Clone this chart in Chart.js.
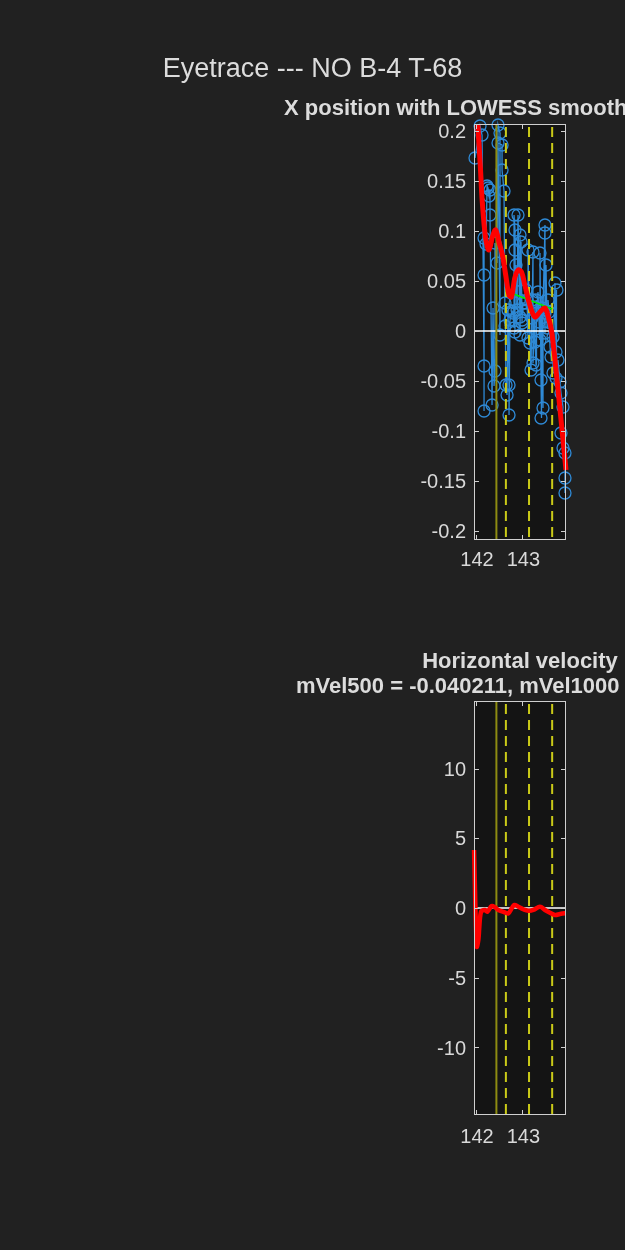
<!DOCTYPE html>
<html><head><meta charset="utf-8">
<script src="https://cdn.jsdelivr.net/npm/chart.js@4"></script>
<style>
html,body{margin:0;padding:0;background:#212121;overflow:hidden;width:625px;height:1250px;}
canvas{position:absolute;left:0;}
.t{position:absolute;white-space:nowrap;color:#dcdcdc;font-family:"Liberation Sans",Arial,sans-serif;line-height:1;}
.b{font-weight:bold;font-size:22px;}
</style></head><body>
<canvas id="c1" width="625" height="600" style="top:0"></canvas>
<canvas id="c2" width="625" height="650" style="top:600px"></canvas>
<div class="t" style="left:0;width:625px;text-align:center;top:55px;font-size:27px;">Eyetrace --- NO B-4 T-68</div>
<div class="t b" style="left:284px;top:97px;">X position with LOWESS smooth</div>
<div class="t b" style="left:400px;width:240px;text-align:center;top:650px;">Horizontal velocity</div>
<div class="t b" style="left:296px;top:675px;">mVel500 = -0.040211, mVel1000</div>
<script>
// ---------- data ----------
const timeLim = [141.956, 143.944];
const posLim = [-0.209, 0.207];
const velLim = [-14.84, 14.84];

const timeTicks = [142, 143];
const timeTickLabels = ['142', '143'];
const posTicks = [0.2, 0.15, 0.1, 0.05, 0, -0.05, -0.1, -0.15, -0.2];
const posTickLabels = ['0.2', '0.15', '0.1', '0.05', '0', '-0.05', '-0.1', '-0.15', '-0.2'];
const velTicks = [10, 5, 0, -5, -10];
const velTickLabels = ['10', '5', '0', '-5', '-10'];

const eventTimes = [142.44];
const cueTimes = [142.645, 143.145, 143.645];

const rawT = [141.978,142.086,142.130,142.173,142.173,142.173,142.173,142.216,142.238,142.259,
  142.281,142.302,142.302,142.346,142.367,142.389,142.410,142.410,142.454,142.475,
  142.518,142.518,142.475,142.562,142.562,142.605,142.626,142.626,142.648,142.670,
  142.691,142.713,142.713,142.734,142.778,142.799,142.821,142.821,142.842,142.842,
  142.842,142.842,142.864,142.886,142.907,142.929,142.950,142.950,142.950,142.972,
  142.994,142.994,143.015,143.058,143.080,143.102,143.102,143.123,143.123,143.166,
  143.188,143.210,143.210,143.231,143.231,143.274,143.274,143.296,143.296,143.317,
  143.339,143.361,143.382,143.382,143.404,143.404,143.425,143.447,143.447,143.490,
  143.490,143.490,143.490,143.512,143.534,143.555,143.577,143.598,143.620,143.663,
  143.663,143.706,143.728,143.749,143.728,143.771,143.814,143.836,143.879,143.836,
  143.879,143.922,143.922,143.922];
const rawPos = [0.173,0.205,0.196,-0.035,-0.080,0.056,0.093,0.087,0.145,0.143,
  0.135,0.141,0.116,-0.074,0.023,-0.055,-0.040,0.088,0.068,0.206,
  0.198,-0.004,0.188,0.186,0.161,0.140,0.005,0.028,-0.054,-0.064,
  0.021,-0.054,-0.084,0.011,0.020,0.018,0.003,0.116,0.101,-0.001,
  0.081,0.028,0.066,0.021,0.116,0.051,0.014,0.096,-0.004,0.089,
  0.008,0.011,0.028,0.028,0.041,0.021,0.031,-0.007,0.081,-0.012,
  -0.039,0.031,0.013,0.079,-0.032,0.024,-0.011,-0.034,0.031,0.018,
  0.039,0.009,-0.009,0.078,-0.049,-0.087,0.023,-0.077,0.021,0.106,
  0.018,0.098,-0.002,0.066,0.003,0.031,0.019,-0.016,-0.026,-0.006,
  -0.042,0.048,-0.021,0.041,-0.047,-0.029,-0.051,-0.062,-0.076,-0.102,
  -0.117,-0.122,-0.147,-0.162];

const smoothT = [142.039,142.091,142.135,142.207,142.278,142.365,142.424,142.496,142.570,142.641,
  142.713,142.765,142.837,142.909,142.983,143.054,143.163,143.272,143.380,143.489,
  143.561,143.635,143.728,143.837,143.944];
const smoothPos = [0.206,0.166,0.129,0.093,0.081,0.096,0.101,0.089,0.076,0.056,
  0.036,0.034,0.053,0.061,0.059,0.046,0.026,0.014,0.019,0.023,
  0.014,-0.001,-0.039,-0.089,-0.139];

const fitT = [142.645, 143.645];
const fitPos = [0.040, 0.022];

const velT = [141.957,142.015,142.050,142.068,142.086,142.105,142.123,142.194,142.244,142.339,
  142.410,142.482,142.590,142.698,142.771,142.827,142.914,143.022,143.130,143.238,
  143.382,143.490,143.598,143.706,143.814,143.922,143.944];
const velVals = [4.16,-2.77,-2.29,-1.50,-0.70,-0.30,-0.20,-0.14,-0.27,0.14,
  0.05,-0.14,-0.27,-0.38,-0.02,0.22,0.09,-0.09,-0.19,-0.14,
  0.09,-0.14,-0.34,-0.50,-0.43,-0.38,-0.38];

// ---------- helpers ----------
const FONT = '"Liberation Sans", Arial, sans-serif';
const TXT = '#d9d9d9';
const pts = (xs, ys) => xs.map((x, i) => ({x, y: ys[i]}));

const framePlugin = {
  id: 'frame',
  beforeDraw(chart) {
    const {ctx, chartArea: a} = chart;
    ctx.save();
    ctx.fillStyle = '#141414';
    ctx.fillRect(a.left, a.top, a.right - a.left, a.bottom - a.top);
    ctx.restore();
  },
  beforeDatasetDraw(chart, args, opts) {
    if (args.index !== opts.refIndex) return;
    const {ctx, chartArea: a, scales} = chart;
    ctx.save();
    const y0 = scales.y.getPixelForValue(0);
    ctx.strokeStyle = '#ffffff'; ctx.lineWidth = 1.5;
    ctx.beginPath(); ctx.moveTo(a.left, y0); ctx.lineTo(a.right, y0); ctx.stroke();
    ctx.lineWidth = 2;
    eventTimes.forEach(t => {
      const x = scales.x.getPixelForValue(t);
      ctx.strokeStyle = '#8e8c12'; ctx.setLineDash([]);
      ctx.beginPath(); ctx.moveTo(x, a.top); ctx.lineTo(x, a.bottom); ctx.stroke();
    });
    cueTimes.forEach(t => {
      const x = scales.x.getPixelForValue(t);
      ctx.strokeStyle = '#caca18'; ctx.setLineDash([10, 6]);
      ctx.beginPath(); ctx.moveTo(x, a.top + 3); ctx.lineTo(x, a.bottom); ctx.stroke();
    });
    ctx.restore();
  },
  afterDraw(chart) {
    const {ctx, chartArea: a, scales} = chart;
    ctx.save();
    ctx.strokeStyle = '#cfcfcf'; ctx.lineWidth = 1;
    ctx.strokeRect(a.left + 0.5, a.top + 0.5, a.right - a.left - 1, a.bottom - a.top - 1);
    const L = 5;
    ctx.beginPath();
    scales.y.ticks.forEach(t => {
      const y = Math.round(scales.y.getPixelForValue(t.value)) + 0.5;
      ctx.moveTo(a.left, y); ctx.lineTo(a.left + L, y);
      ctx.moveTo(a.right, y); ctx.lineTo(a.right - L, y);
    });
    scales.x.ticks.forEach(t => {
      const x = Math.round(scales.x.getPixelForValue(t.value)) + 0.5;
      ctx.moveTo(x, a.bottom); ctx.lineTo(x, a.bottom - L);
      ctx.moveTo(x, a.top); ctx.lineTo(x, a.top + L);
    });
    ctx.stroke();
    ctx.restore();
  }
};

function scalesFor(yLim, yTicks, yLabels, xAxisHeight, xPad) {
  return {
    x: {
      type: 'linear', min: timeLim[0], max: timeLim[1],
      afterBuildTicks: s => { s.ticks = timeTicks.map(v => ({value: v})); },
      afterFit: s => { s.height = xAxisHeight; },
      ticks: {color: TXT, font: {family: FONT, size: 20}, padding: xPad, labelOffset: 1, maxRotation: 0, autoSkip: false,
        callback: v => timeTickLabels[timeTicks.indexOf(v)]},
      grid: {display: false, drawTicks: false}, border: {display: false}
    },
    y: {
      type: 'linear', min: yLim[0], max: yLim[1],
      afterBuildTicks: s => { s.ticks = yTicks.map(v => ({value: v})); },
      afterFit: s => { s.width = 474; },
      ticks: {color: TXT, font: {family: FONT, size: 20}, padding: 8, labelOffset: 1.5, autoSkip: false,
        callback: v => yLabels[yTicks.indexOf(v)]},
      grid: {display: false, drawTicks: false}, border: {display: false}
    }
  };
}

const common = {
  responsive: false, animation: false, devicePixelRatio: 1,
  plugins: {legend: {display: false}, tooltip: {enabled: false}, title: {display: false}},
  elements: {point: {radius: 0}}
};

new Chart(document.getElementById('c1'), {
  type: 'line',
  data: {datasets: [
    {data: pts(smoothT, smoothPos), borderColor: '#ff0000', borderWidth: 5, tension: 0.35, pointRadius: 0, fill: false, clip: false},
    {data: pts(fitT, fitPos), borderColor: '#00ee00', borderWidth: 1.5, pointRadius: 0, fill: false},
    {data: pts(rawT, rawPos), borderColor: '#2f8ad6', borderWidth: 1.3, pointRadius: 6, pointBorderWidth: 1.3,
      pointBorderColor: '#2f8ad6', pointBackgroundColor: 'rgba(0,0,0,0)', fill: false, clip: false}
  ]},
  options: Object.assign({}, common, {
    layout: {padding: {left: 0, right: 59, top: 124, bottom: 0}},
    scales: scalesFor(posLim, posTicks, posTickLabels, 60, 8),
    plugins: Object.assign({}, common.plugins, {frame: {refIndex: 1}})
  }),
  plugins: [framePlugin]
});

new Chart(document.getElementById('c2'), {
  type: 'line',
  data: {datasets: [
    {data: pts(velT, velVals), borderColor: '#ff0000', borderWidth: 4.5, tension: 0.35, pointRadius: 0, fill: false, clip: false}
  ]},
  options: Object.assign({}, common, {
    layout: {padding: {left: 0, right: 59, top: 101, bottom: 0}},
    scales: scalesFor(velLim, velTicks, velTickLabels, 135, 10),
    plugins: Object.assign({}, common.plugins, {frame: {refIndex: 0}})
  }),
  plugins: [framePlugin]
});
</script>
</body></html>
